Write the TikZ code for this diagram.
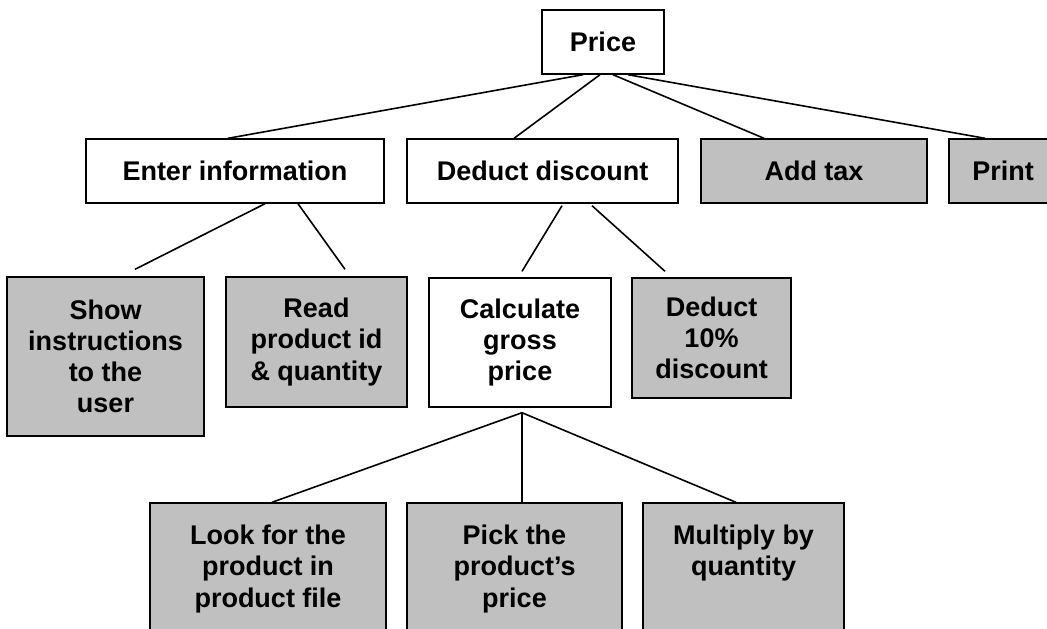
\documentclass[tikz,border=0pt]{standalone}
\usepackage{fontspec}
\setmainfont{Liberation Sans}
\usetikzlibrary{positioning,calc}
\definecolor{boxgray}{HTML}{C0C0C0}
\tikzset{task/.style={inner sep=0pt, draw, line width=0.7pt, align=center, font=\fontsize{13.5}{15.6}\selectfont\bfseries}}
\tikzset{leaf/.style={task, fill=boxgray}}
\tikzset{link/.style={line width=0.8pt}}

\begin{document}
\begin{tikzpicture}[x=0.5pt, y=-0.5pt]
		\useasboundingbox (0,0) rectangle (1047,628);
		\clip (0,0) rectangle (1047,628);
		
		% WURZEL
		\node[task, minimum width=61pt, minimum height=32pt] (price) at (603,42) {Price};
		
		% EBENE 1
		\node[task, minimum width=149pt, minimum height=32pt] (enter) at (235,171) {Enter information};
		\node[task, minimum width=135.5pt, minimum height=32pt] (deduct) at (542.5,171) {Deduct discount};
		\node[leaf, minimum width=113pt, minimum height=32pt] (tax) at (814,171) {Add tax};
		\node[leaf, minimum width=54pt, minimum height=32pt] (print) at (1003,171) {Print};
		
		\draw[link] ($(price.south)+(-20,0)$) -- ($(enter.north)+(-7,0)$);
		\draw[link] ($(price.south)+(-3,0)$)  -- ($(deduct.north)+(-28.5,0)$);
		\draw[link] ($(price.south)+(10,0)$)  -- ($(tax.north)+(-50,0)$);
		\draw[link] ($(price.south)+(25,0)$)  -- ($(print.north)+(-18,0)$);
		
		% EBENE 2
		\node[leaf, minimum width=98.5pt, minimum height=79.5pt] (show) at (105.5,356.5) {Show\\instructions\\to the\\user};
		\node[leaf, minimum width=90.5pt, minimum height=65pt] (read) at (316.5,342) {Read\\product id\\\& quantity};
		\node[task, minimum width=91pt, minimum height=64.5pt] (calc) at (520,342.5) {Calculate\\gross\\price};
		\node[leaf, minimum width=79.5pt, minimum height=60pt] (tenpct) at (711.5,338) {Deduct\\10\%\\discount};
		
		\draw[link] ($(enter.south)+(30,0)$)    -- ($(show.north)+(29.5,-7)$);
		\draw[link] ($(enter.south)+(63,0)$)    -- ($(read.north)+(28.5,-7)$);
		\draw[link] ($(deduct.south)+(19.5,2)$) -- ($(calc.north)+(2,-6)$);
		\draw[link] ($(deduct.south)+(49.5,2)$) -- ($(tenpct.north)+(-46.5,-6)$);
		
		% EBENE 3
		\node[leaf, minimum width=118pt, minimum height=66pt] (look) at (268,569) {Look for the\\product in\\product file};
		\node[leaf, minimum width=107.5pt, minimum height=66pt] (pick) at (514.5,569) {Pick the\\product’s\\price};
		\node[leaf, minimum width=100.5pt, minimum height=66pt] (multiply) at (743.5,569) {Multiply by\\quantity\\\vphantom{p}};
		
		\draw[link] ($(calc.south)+(2,5)$) -- ($(look.north)+(4,0)$);
		\draw[link] ($(calc.south)+(2,5)$) -- ($(pick.north)+(7.5,0)$);
		\draw[link] ($(calc.south)+(2,5)$) -- ($(multiply.north)+(-7.5,0)$);
		
	\end{tikzpicture}
\end{document}
